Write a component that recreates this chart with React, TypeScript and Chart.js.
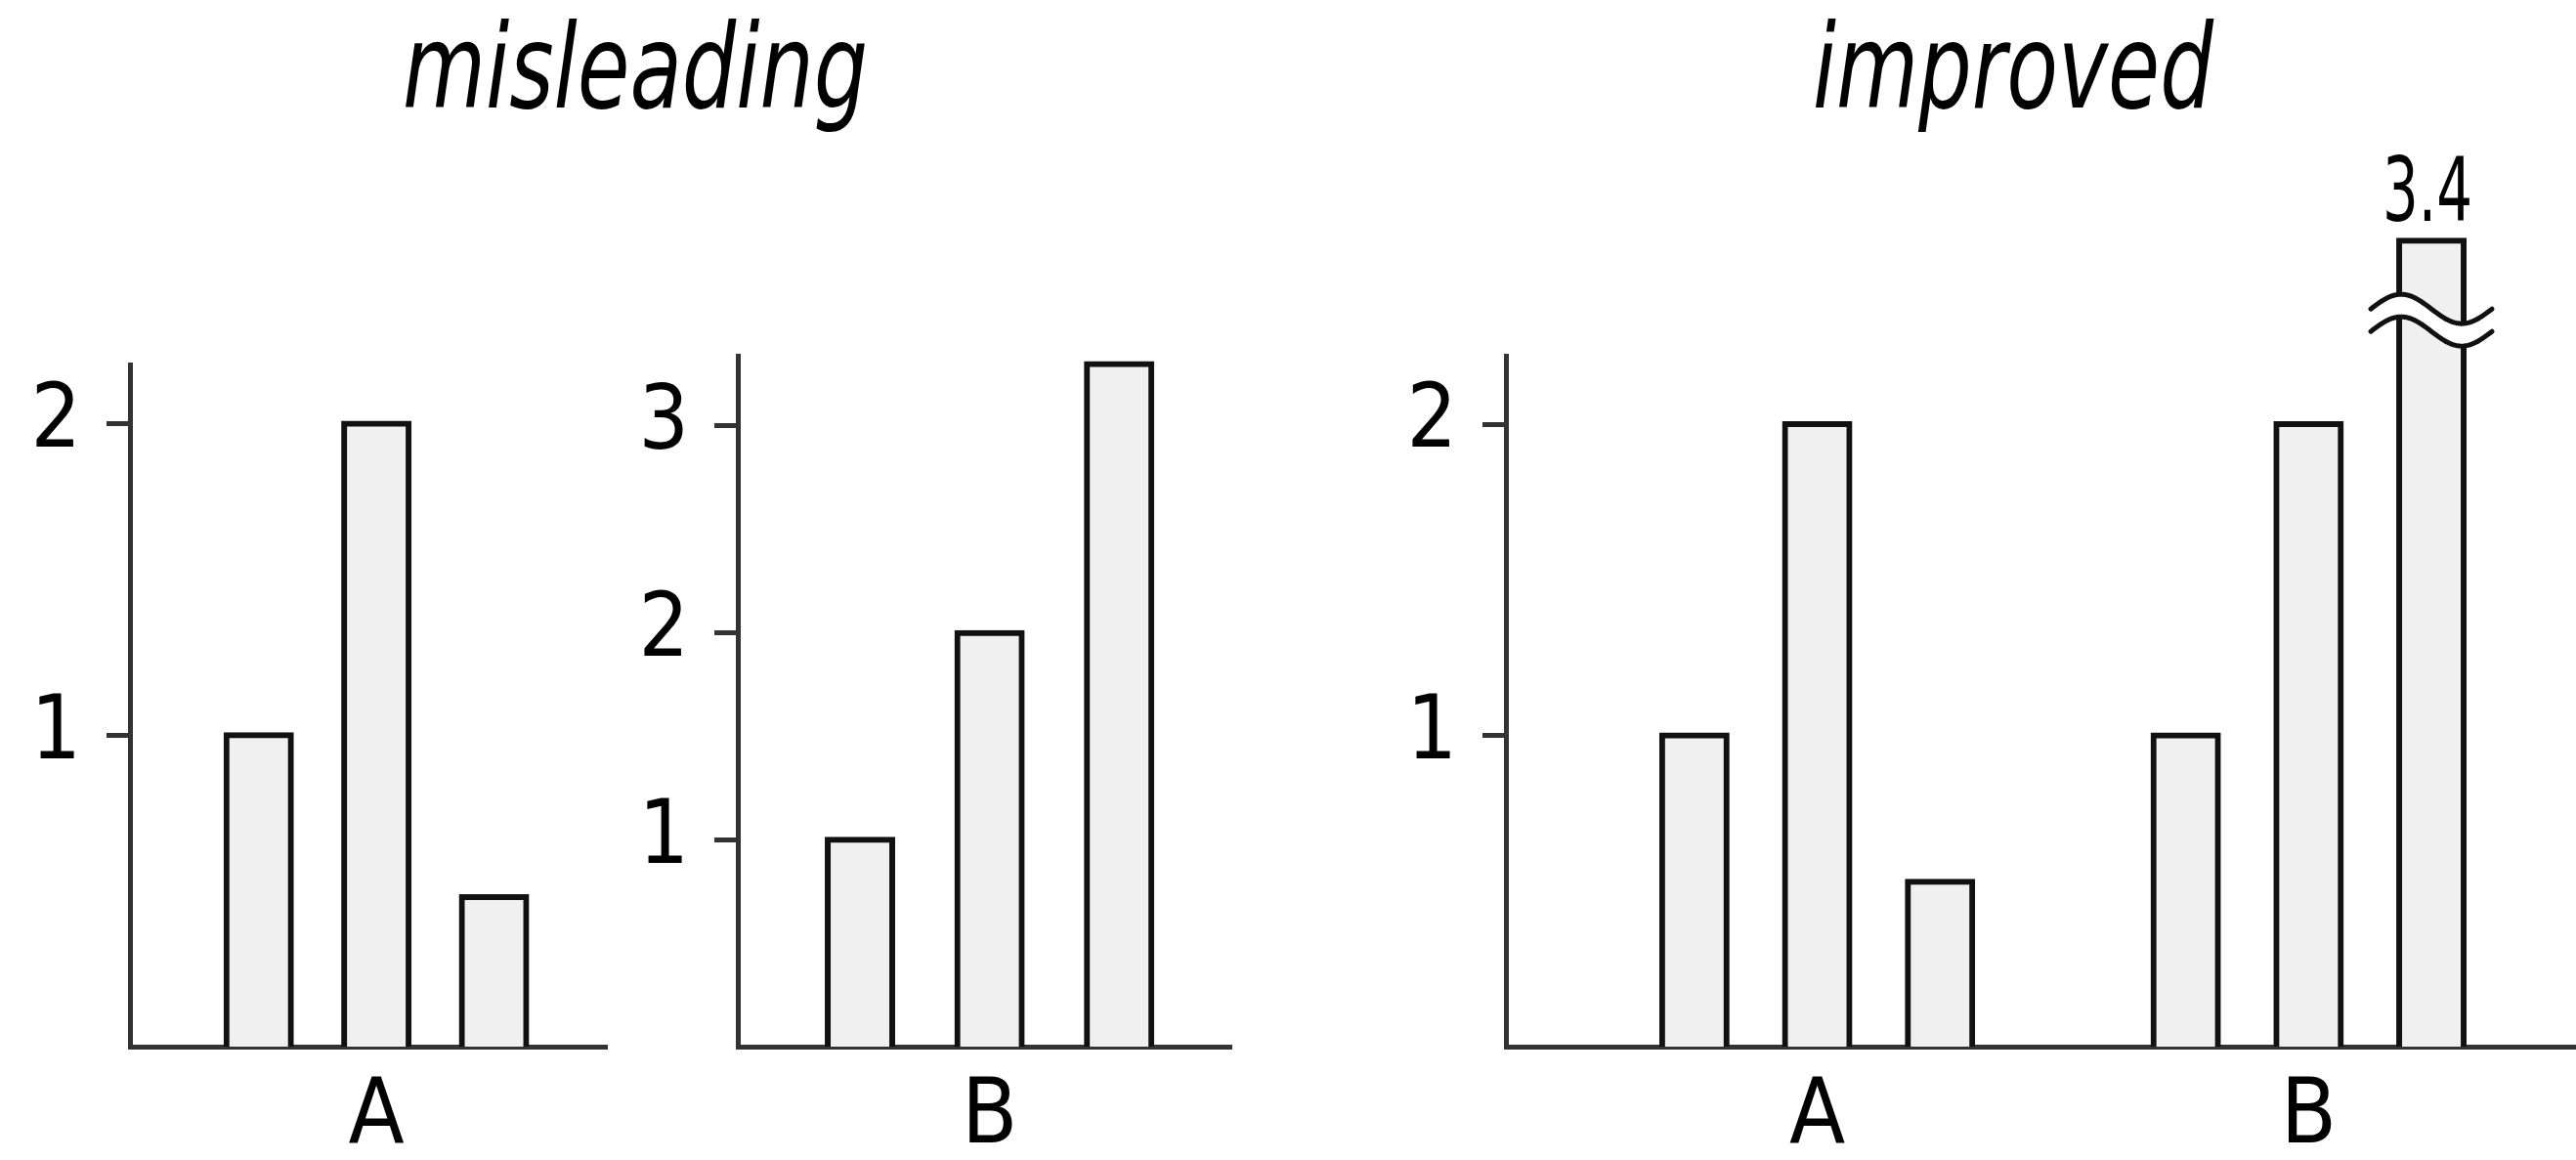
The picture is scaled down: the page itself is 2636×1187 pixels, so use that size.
import React, { useEffect, useRef } from "react";
import { Chart, registerables } from "chart.js";

Chart.register(...registerables);

// ---------- data ----------
const titleMisleading = "misleading";
const titleImproved = "improved";
const groupLabels = ["A", "B"];
const misleadingA = [1, 2, 0.48];
const misleadingB = [1, 2, 3.3];
const improvedA = [1, 2, 0.53];
const improvedB = [1, 2, 3.4];
const improvedCutValue = 2.59; // out-of-range bars are drawn up to this value, with a break
const ticksMisleadingA = [1, 2];
const ticksMisleadingB = [1, 2, 3];
const ticksImproved = [1, 2];

// ---------- layout / style ----------
const W = 2636;
const H = 1187;
const FONT = "'DejaVu Sans Condensed', 'Liberation Sans Narrow', 'DejaVu Sans', sans-serif";
const AXIS = "#333333";
const INK = "#111111";
const FILL = "#f0f0f0";

type Group = { label: string; values: number[] };
type Title = { text: string; x: number; y: number; width: number };
type Spec = {
  key: string;
  groups: Group[];
  yTicks: number[];
  yMax: number;
  area: { left: number; right: number; top: number; bottom: number };
  xMin: number;
  xMax: number;
  cap?: number;
  titles?: Title[];
};

const specs: Spec[] = [
  {
    key: "mA",
    groups: [{ label: groupLabels[0], values: misleadingA }],
    yTicks: ticksMisleadingA,
    yMax: 2.19,
    area: { left: 133, right: 621, top: 373, bottom: 1071 },
    xMin: -1.094,
    xMax: 2.959,
    titles: [{ text: titleMisleading, x: 650, y: 110, width: 476 }],
  },
  {
    key: "mB",
    groups: [{ label: groupLabels[1], values: misleadingB }],
    yTicks: ticksMisleadingB,
    yMax: 3.34,
    area: { left: 755, right: 1260, top: 364, bottom: 1071 },
    xMin: -0.943,
    xMax: 2.866,
  },
  {
    key: "imp",
    groups: [
      { label: groupLabels[0], values: improvedA },
      { label: groupLabels[1], values: improvedB },
    ],
    yTicks: ticksImproved,
    yMax: 2.22,
    area: { left: 1541, right: W, top: 364, bottom: 1071 },
    xMin: -1.534,
    xMax: 7.177,
    cap: improvedCutValue,
    titles: [{ text: titleImproved, x: 2060, y: 110, width: 410 }],
  },
];

function drawFittedText(ctx: any, text: string, x: number, y: number, width: number) {
  const w = ctx.measureText(text).width;
  const sx = w > 0 ? Math.min(1, width / w) : 1;
  ctx.save();
  ctx.translate(x, y);
  ctx.scale(sx, 1);
  ctx.textAlign = "center";
  ctx.textBaseline = "alphabetic";
  ctx.fillText(text, 0, 0);
  ctx.restore();
}

function buildConfig(spec: Spec): any {
  const n = spec.groups[0].values.length;
  const points: { x: number; y: number; raw: number }[] = [];
  spec.groups.forEach((g, gi) => {
    g.values.forEach((v, i) => {
      const shown = spec.cap !== undefined ? Math.min(v, spec.cap) : v;
      points.push({ x: gi * (n + 1) + i, y: shown, raw: v });
    });
  });
  const labelPositions = spec.groups.map((_, gi) => gi * (n + 1) + (n - 1) / 2);

  const overlay = {
    id: "overlay-" + spec.key,
    afterDraw(chart: any) {
      const ctx = chart.ctx;
      ctx.save();
      (spec.titles || []).forEach((t) => {
        ctx.font = `italic 120px ${FONT}`;
        ctx.fillStyle = "#000";
        drawFittedText(ctx, t.text, t.x, t.y, t.width);
      });
      if (spec.cap !== undefined) {
        const meta = chart.getDatasetMeta(0);
        points.forEach((p, i) => {
          if (p.raw <= (spec.cap as number)) return;
          const el = meta.data[i];
          const cx = el.x;
          const top = el.y;
          const half = 62;
          const amp = 15;
          const gap = 23;
          const y1 = top + 70;
          const steps = 60;
          const wave = (yc: number) => {
            const pts: [number, number][] = [];
            for (let s = 0; s <= steps; s++) {
              const t = s / steps;
              pts.push([cx - half + t * 2 * half, yc - amp * Math.sin(2 * Math.PI * t)]);
            }
            return pts;
          };
          const up = wave(y1);
          const lo = wave(y1 + gap);
          ctx.beginPath();
          up.forEach(([x, y], k) => (k === 0 ? ctx.moveTo(x, y) : ctx.lineTo(x, y)));
          for (let k = lo.length - 1; k >= 0; k--) ctx.lineTo(lo[k][0], lo[k][1]);
          ctx.closePath();
          ctx.fillStyle = "#ffffff";
          ctx.fill();
          ctx.lineWidth = 5;
          ctx.lineCap = "round";
          ctx.strokeStyle = INK;
          [up, lo].forEach((w) => {
            ctx.beginPath();
            w.forEach(([x, y], k) => (k === 0 ? ctx.moveTo(x, y) : ctx.lineTo(x, y)));
            ctx.stroke();
          });
          ctx.font = `91px ${FONT}`;
          ctx.fillStyle = "#000";
          drawFittedText(ctx, String(p.raw), cx - 4, top - 20, 92);
        });
      }
      ctx.restore();
    },
  };

  return {
    type: "bar",
    data: {
      datasets: [
        {
          data: points.map((p) => ({ x: p.x, y: p.y })),
          backgroundColor: FILL,
          borderColor: INK,
          borderWidth: 6,
          inflateAmount: 3,
          barThickness: 66,
          borderSkipped: "start",
          clip: false,
        },
      ],
    },
    options: {
      responsive: false,
      animation: false,
      devicePixelRatio: 1,
      layout: {
        padding: { left: 0, top: spec.area.top, right: W - spec.area.right, bottom: 0 },
      },
      plugins: {
        legend: { display: false },
        tooltip: { enabled: false },
        title: { display: false },
      },
      scales: {
        x: {
          type: "linear",
          offset: false,
          min: spec.xMin,
          max: spec.xMax,
          grid: { display: false, drawTicks: false },
          border: { display: true, color: AXIS, width: 5 },
          ticks: {
            font: { family: FONT, size: 93 },
            color: "#000",
            padding: 18,
            maxRotation: 0,
            autoSkip: false,
            callback: (_v: any, i: number) => (spec.groups[i] ? spec.groups[i].label : ""),
          },
          afterBuildTicks: (s: any) => {
            s.ticks = labelPositions.map((v) => ({ value: v }));
          },
          afterFit: (s: any) => {
            s.height = H - spec.area.bottom;
          },
        },
        y: {
          type: "linear",
          min: 0,
          max: spec.yMax,
          grid: {
            display: true,
            drawOnChartArea: false,
            drawTicks: true,
            tickLength: 24,
            tickWidth: 5,
            tickColor: AXIS,
            lineWidth: 5,
            color: AXIS,
          },
          border: { display: true, color: AXIS, width: 5 },
          ticks: {
            font: { family: FONT, size: 90 },
            color: "#000",
            padding: 26,
            includeBounds: false,
            callback: (v: any) => String(v),
          },
          afterBuildTicks: (s: any) => {
            s.ticks = spec.yTicks.map((v) => ({ value: v }));
          },
          afterFit: (s: any) => {
            s.width = spec.area.left;
          },
        },
      },
    },
    plugins: [overlay],
  };
}

function Panel({ spec }: { spec: Spec }) {
  const ref = useRef<HTMLCanvasElement | null>(null);
  useEffect(() => {
    if (!ref.current) return;
    const chart = new Chart(ref.current, buildConfig(spec));
    return () => chart.destroy();
  }, [spec]);
  return (
    <canvas
      ref={ref}
      width={W}
      height={H}
      style={{ position: "absolute", left: 0, top: 0, width: W, height: H }}
    />
  );
}

export default function App() {
  return (
    <div style={{ position: "absolute", left: 0, top: 0, width: W, height: H, background: "#fff" }}>
      {specs.map((s) => (
        <Panel key={s.key} spec={s} />
      ))}
    </div>
  );
}
